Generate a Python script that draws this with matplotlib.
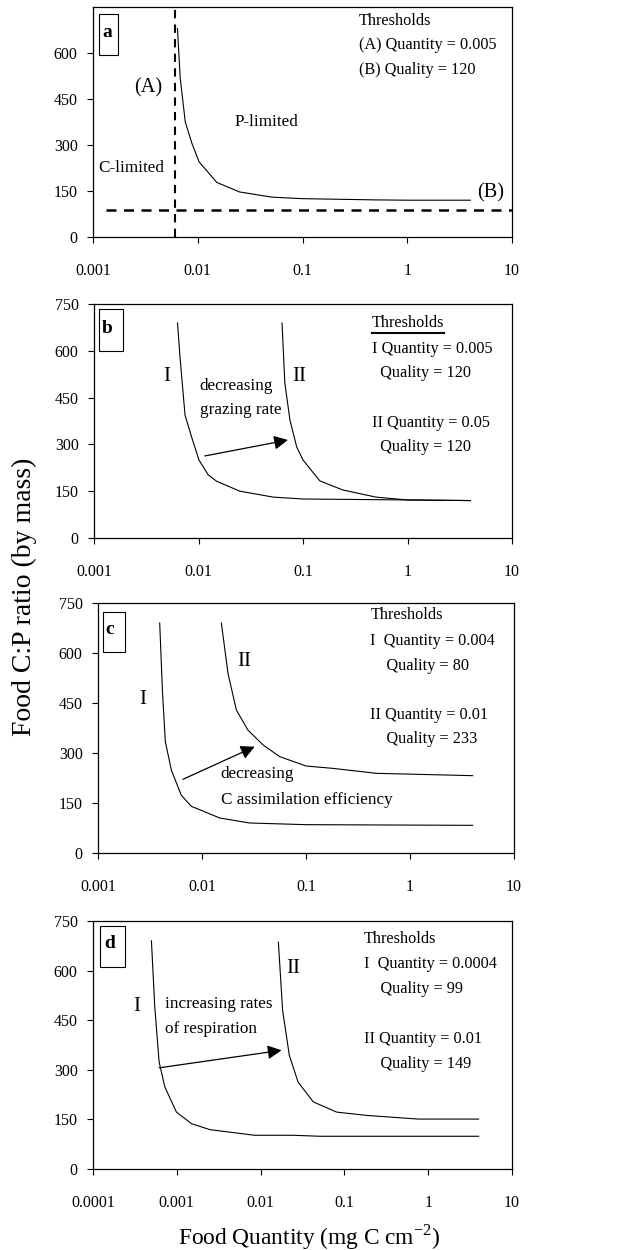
import matplotlib
matplotlib.use("Agg")
import matplotlib.pyplot as plt
from matplotlib.patches import Rectangle

plt.rcParams['font.family'] = ['Liberation Serif', 'DejaVu Serif']
plt.rcParams['mathtext.fontset'] = 'custom'
plt.rcParams['mathtext.rm'] = 'Liberation Serif'

# ---------------- data ----------------
yticks_full = [0, 150, 300, 450, 600, 750]
yticks_a = [0, 150, 300, 450, 600]
xticks_3 = [0.001, 0.01, 0.1, 1, 10]
xtick_labels_3 = ["0.001", "0.01", "0.1", "1", "10"]
xticks_d = [0.0001, 0.001, 0.01, 0.1, 1, 10]
xtick_labels_d = ["0.0001", "0.001", "0.01", "0.1", "1", "10"]

# panel a
a_x = [0.0064, 0.0068, 0.0076, 0.0088, 0.0103, 0.0152, 0.025, 0.051, 0.1, 0.5, 1.0, 4.0]
a_y = [680, 518, 375, 305, 245, 178, 147, 130, 125, 121, 120, 120]
a_thresh_quantity = 0.00607
a_thresh_quality = 88
a_hline_start = 0.00133

# panel b
b1_x = [0.0063, 0.00665, 0.00743, 0.0086, 0.0101, 0.0124, 0.0149, 0.0249, 0.052, 0.1, 1.0, 4.0]
b1_y = [689, 581, 394, 323, 250, 202, 182, 150, 131, 125, 122, 120]
b2_x = [0.063, 0.067, 0.075, 0.087, 0.1, 0.145, 0.24, 0.5, 1.0, 4.0]
b2_y = [689, 497, 378, 292, 250, 183, 154, 131, 122, 120]

# panel c
c1_x = [0.00392, 0.00416, 0.00444, 0.00507, 0.0063, 0.0079, 0.01, 0.0148, 0.0287, 0.1, 4.0]
c1_y = [690, 489, 334, 249, 174, 140, 127, 105, 90, 85, 83]
c2_x = [0.01535, 0.0178, 0.0214, 0.0276, 0.0387, 0.056, 0.1, 0.18, 0.475, 4.0]
c2_y = [690, 538, 429, 369, 324, 289, 261, 254, 239, 232]

# panel d
d1_x = [0.000498, 0.000546, 0.000615, 0.00072, 0.00099, 0.0015, 0.00248, 0.0085, 0.0246, 0.051, 4.0]
d1_y = [690, 490, 324, 248, 172, 137, 119, 102, 102, 99, 99]
d2_x = [0.0163, 0.0183, 0.022, 0.028, 0.0425, 0.081, 0.186, 0.76, 4.0]
d2_y = [686, 480, 344, 263, 203, 172, 162, 151, 151]

# ---------------- figure ----------------
W, H = 619, 1250
fig = plt.figure(figsize=(W / 100, H / 100), dpi=100)

FS_TH = 11.7      # thresholds text
FS_REG = 12.3     # region / annotation text
FS_ROM = 15       # roman numerals


def px_axes(l, r, t, b):
    return fig.add_axes([l / W, 1 - b / H, (r - l) / W, (b - t) / H])


def style(ax, xt, xl, yt, xlim):
    ax.set_xscale('log')
    ax.set_xlim(*xlim)
    ax.set_ylim(0, 750)
    ax.set_xticks(xt)
    ax.set_xticklabels(xl)
    ax.minorticks_off()
    ax.set_yticks(yt)
    ax.set_yticklabels([str(v) for v in yt])
    ax.tick_params(direction='out', length=4, width=0.8, labelsize=11.5)
    ax.tick_params(axis='y', pad=7)
    ax.tick_params(axis='x', pad=15)
    for s in ax.spines.values():
        s.set_linewidth(0.9)
        s.set_color('black')


def panel_label(ax, letter, x0, x1, y0, y1, tx, ty):
    ax.add_patch(Rectangle((x0, y0), x1 - x0, y1 - y0, transform=ax.transAxes,
                           fill=True, facecolor='white', edgecolor='black',
                           lw=0.8, zorder=5))
    ax.text(tx, ty, letter, transform=ax.transAxes, fontsize=14, fontweight='bold',
            ha='center', va='center', zorder=6)


lw = 0.8
arrow_kw = dict(arrowstyle='-|>', mutation_scale=21, lw=0.9, color='black',
                shrinkA=0, shrinkB=0)

# ---- panel a
ax = px_axes(93, 512, 7, 237)
style(ax, xticks_3, xtick_labels_3, yticks_a, (0.001, 10))
ax.plot(a_x, a_y, color='black', lw=lw)
ax.axvline(a_thresh_quantity, color='black', lw=1.5, ls=(0, (4, 3)))
ax.plot([a_hline_start, 10], [a_thresh_quality, a_thresh_quality],
        color='black', lw=1.8, ls=(0, (4, 3)), clip_on=False)
panel_label(ax, 'a', 0.014, 0.060, 0.791, 0.970, 0.035, 0.887)
ax.text(0.00335, 485, '(A)', fontsize=14.6, ha='center', va='center')
ax.text(0.0457, 375, 'P-limited', fontsize=FS_REG, ha='center', va='center')
ax.text(0.0023, 225, 'C-limited', fontsize=FS_REG, ha='center', va='center')
ax.text(6.3, 143, '(B)', fontsize=14.6, ha='center', va='center')
ax.text(0.347, 704, 'Thresholds', fontsize=FS_TH, ha='left', va='center')
ax.text(0.347, 625, '(A) Quantity = 0.005', fontsize=FS_TH, ha='left', va='center')
ax.text(0.347, 544, '(B) Quality = 120', fontsize=FS_TH, ha='left', va='center')

# ---- panel b
ax = px_axes(94, 512, 304, 538)
style(ax, xticks_3, xtick_labels_3, yticks_full, (0.001, 10))
ax.plot(b1_x, b1_y, color='black', lw=lw)
ax.plot(b2_x, b2_y, color='black', lw=lw)
panel_label(ax, 'b', 0.012, 0.069, 0.799, 0.979, 0.031, 0.897)
ax.text(0.005, 519, 'I', fontsize=FS_ROM, ha='center', va='center')
ax.text(0.093, 519, 'II', fontsize=FS_ROM, ha='center', va='center')
ax.text(0.0103, 487, 'decreasing', fontsize=FS_REG, ha='left', va='center')
ax.text(0.0103, 410, 'grazing rate', fontsize=FS_REG, ha='left', va='center')
ax.annotate('', xy=(0.0718, 314), xytext=(0.0115, 263), arrowprops=arrow_kw)
ax.text(0.457, 689, 'Thresholds', fontsize=FS_TH, ha='left', va='center')
ax.plot([0.665, 0.838], [0.876, 0.876], transform=ax.transAxes, color='black', lw=1.5)
ax.text(0.457, 606, 'I Quantity = 0.005', fontsize=FS_TH, ha='left', va='center')
ax.text(0.457, 529, '  Quality = 120', fontsize=FS_TH, ha='left', va='center')
ax.text(0.457, 369, 'II Quantity = 0.05', fontsize=FS_TH, ha='left', va='center')
ax.text(0.457, 292, '  Quality = 120', fontsize=FS_TH, ha='left', va='center')

# ---- panel c
ax = px_axes(98, 514, 603, 853)
style(ax, xticks_3, xtick_labels_3, yticks_full, (0.001, 10))
ax.plot(c1_x, c1_y, color='black', lw=lw)
ax.plot(c2_x, c2_y, color='black', lw=lw)
panel_label(ax, 'c', 0.012, 0.065, 0.804, 0.964, 0.029, 0.892)
ax.text(0.00267, 459, 'I', fontsize=FS_ROM, ha='center', va='center')
ax.text(0.0253, 575, 'II', fontsize=FS_ROM, ha='center', va='center')
ax.text(0.0151, 236, 'decreasing', fontsize=FS_REG, ha='left', va='center')
ax.text(0.0151, 158, 'C assimilation efficiency', fontsize=FS_REG, ha='left', va='center')
ax.annotate('', xy=(0.0321, 319), xytext=(0.00656, 221), arrowprops=arrow_kw)
ax.text(0.415, 713, 'Thresholds', fontsize=FS_TH, ha='left', va='center')
ax.text(0.415, 635, 'I  Quantity = 0.004', fontsize=FS_TH, ha='left', va='center')
ax.text(0.415, 561, '    Quality = 80', fontsize=FS_TH, ha='left', va='center')
ax.text(0.415, 414, 'II Quantity = 0.01', fontsize=FS_TH, ha='left', va='center')
ax.text(0.415, 341, '    Quality = 233', fontsize=FS_TH, ha='left', va='center')

# ---- panel d
ax = px_axes(93, 512, 921, 1169)
style(ax, xticks_d, xtick_labels_d, yticks_full, (0.0001, 10))
ax.plot(d1_x, d1_y, color='black', lw=lw)
ax.plot(d2_x, d2_y, color='black', lw=lw)
panel_label(ax, 'd', 0.017, 0.076, 0.815, 0.980, 0.041, 0.911)
ax.text(0.000336, 492, 'I', fontsize=FS_ROM, ha='center', va='center')
ax.text(0.0246, 606, 'II', fontsize=FS_ROM, ha='center', va='center')
ax.text(0.00072, 500, 'increasing rates', fontsize=FS_REG, ha='left', va='center')
ax.text(0.00072, 422, 'of respiration', fontsize=FS_REG, ha='left', va='center')
ax.annotate('', xy=(0.0178, 359), xytext=(0.000615, 306), arrowprops=arrow_kw)
ax.text(0.172, 697, 'Thresholds', fontsize=FS_TH, ha='left', va='center')
ax.text(0.172, 621, 'I  Quantity = 0.0004', fontsize=FS_TH, ha='left', va='center')
ax.text(0.172, 544, '    Quality = 99', fontsize=FS_TH, ha='left', va='center')
ax.text(0.172, 394, 'II Quantity = 0.01', fontsize=FS_TH, ha='left', va='center')
ax.text(0.172, 319, '    Quality = 149', fontsize=FS_TH, ha='left', va='center')

# ---- shared labels
fig.text(309 / W, 1 - 1237 / H, 'Food Quantity (mg C cm$^{-2}$)', fontsize=16.8,
         ha='center', va='center')
fig.text(24 / W, 1 - 597 / H, 'Food C:P ratio (by mass)', fontsize=20,
         rotation=90, ha='center', va='center')

fig.savefig('out.png', dpi=100)
